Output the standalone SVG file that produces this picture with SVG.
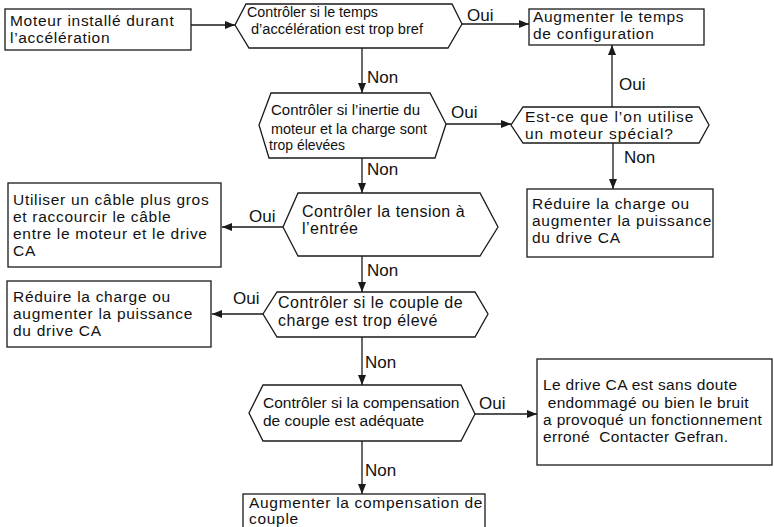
<svg xmlns="http://www.w3.org/2000/svg" width="774" height="527" viewBox="0 0 774 527">
  <style>
    .shape { fill: #ffffff; stroke: #1a1a1a; stroke-width: 1.3; }
    .wire { fill: none; stroke: #1a1a1a; stroke-width: 1.3; marker-end: url(#head); }
    text { font-family: "Liberation Sans", Arial, sans-serif; fill: #111111; }
    .box { font-size: 15.5px; letter-spacing: 0.7px; }
    .note { font-size: 15.5px; letter-spacing: 0.35px; }
    .narrow { font-size: 15.5px; }
    .hx { font-size: 16px; letter-spacing: 0.5px; }
    .hx5 { font-size: 15.5px; }
    .wide { font-size: 15.5px; letter-spacing: 1px; }
    .lbl { font-size: 17px; }
  </style>
  <defs>
    <marker id="head" markerUnits="userSpaceOnUse" markerWidth="10" markerHeight="8" refX="10" refY="4" orient="auto">
      <path d="M0,0 L10,4 L0,8 z" fill="#1a1a1a"/>
    </marker>
  </defs>
  <rect width="774" height="527" fill="#ffffff"/>

  <!-- connectors and their Oui / Non labels -->
  <g id="connectors">
    <line class="wire" x1="191" y1="25" x2="235" y2="25"/>
    <line class="wire" x1="462" y1="24" x2="529" y2="24"/>
    <line class="wire" x1="362" y1="48" x2="362" y2="93"/>
    <line class="wire" x1="446" y1="124" x2="511" y2="124"/>
    <line class="wire" x1="612" y1="107" x2="612" y2="45"/>
    <line class="wire" x1="613" y1="143" x2="613" y2="189"/>
    <line class="wire" x1="362" y1="158" x2="362" y2="193"/>
    <line class="wire" x1="283" y1="227" x2="222" y2="227"/>
    <line class="wire" x1="362" y1="256" x2="362" y2="292"/>
    <line class="wire" x1="263" y1="314" x2="212" y2="314"/>
    <line class="wire" x1="362" y1="337" x2="362" y2="385"/>
    <line class="wire" x1="475" y1="414" x2="537" y2="414"/>
    <line class="wire" x1="362" y1="441" x2="362" y2="494"/>

    <text class="lbl" x="467" y="21">Oui</text>
    <text class="lbl" x="367" y="83">Non</text>
    <text class="lbl" x="451" y="118">Oui</text>
    <text class="lbl" x="619" y="90">Oui</text>
    <text class="lbl" x="624" y="163">Non</text>
    <text class="lbl" x="367" y="175">Non</text>
    <text class="lbl" x="249" y="222">Oui</text>
    <text class="lbl" x="367" y="276">Non</text>
    <text class="lbl" x="233" y="304">Oui</text>
    <text class="lbl" x="365" y="368">Non</text>
    <text class="lbl" x="479" y="409">Oui</text>
    <text class="lbl" x="365" y="476">Non</text>
  </g>

  <g id="start">
    <rect class="shape" x="5" y="9" width="186" height="41"/>
    <text class="box"><tspan x="10" y="26">Moteur installé durant</tspan><tspan x="10" y="43">l’accélération</tspan></text>
  </g>

  <g id="check-accel-time">
    <polygon class="shape" points="246,4 452,4 462,24 448,48 249,48 235,25"/>
    <text class="narrow"><tspan x="247" y="17" textLength="131" lengthAdjust="spacingAndGlyphs">Contrôler si le temps</tspan><tspan x="251" y="34" textLength="172" lengthAdjust="spacingAndGlyphs">d’accélération est trop bref</tspan></text>
  </g>

  <g id="raise-config-time">
    <rect class="shape" x="529" y="9" width="175" height="36"/>
    <text class="box"><tspan x="533" y="22">Augmenter le temps</tspan><tspan x="533" y="39">de configuration</tspan></text>
  </g>

  <g id="check-inertia">
    <polygon class="shape" points="271,93 430,93 446,124 435,158 269,158 259,125"/>
    <text class="narrow"><tspan x="271" y="115" textLength="149" lengthAdjust="spacingAndGlyphs">Contrôler si l’inertie du</tspan><tspan x="271" y="134" textLength="156" lengthAdjust="spacingAndGlyphs">moteur et la charge sont</tspan><tspan x="269" y="150" textLength="76" lengthAdjust="spacingAndGlyphs">trop élevées</tspan></text>
  </g>

  <g id="check-special-motor">
    <polygon class="shape" points="523,107 699,107 709,125 699,143 523,143 511,125"/>
    <text class="wide"><tspan x="525" y="122">Est-ce que l’on utilise</tspan><tspan x="525" y="139">un moteur spécial?</tspan></text>
  </g>

  <g id="reduce-load-right">
    <rect class="shape" x="527" y="189" width="186" height="68"/>
    <text class="box"><tspan x="532" y="209">Réduire la charge ou</tspan><tspan x="532" y="226">augmenter la puissance</tspan><tspan x="532" y="243">du drive CA</tspan></text>
  </g>

  <g id="check-input-voltage">
    <polygon class="shape" points="298,193 480,193 498,227 480,256 298,256 283,227"/>
    <text class="hx"><tspan x="302" y="217">Contrôler la tension à</tspan><tspan x="302" y="234">l’entrée</tspan></text>
  </g>

  <g id="bigger-cable">
    <rect class="shape" x="8" y="183" width="213" height="84"/>
    <text class="box"><tspan x="13" y="205">Utiliser un câble plus gros</tspan><tspan x="13" y="222">et raccourcir le câble</tspan><tspan x="13" y="239">entre le moteur et le drive</tspan><tspan x="13" y="256">CA</tspan></text>
  </g>

  <g id="check-load-torque">
    <polygon class="shape" points="277,292 475,292 488,314 475,337 277,337 263,314"/>
    <text class="hx"><tspan x="278" y="308">Contrôler si le couple de</tspan><tspan x="278" y="326">charge est trop élevé</tspan></text>
  </g>

  <g id="reduce-load-left">
    <rect class="shape" x="7" y="281" width="204" height="66"/>
    <text class="box"><tspan x="13" y="302">Réduire la charge ou</tspan><tspan x="13" y="319">augmenter la puissance</tspan><tspan x="13" y="336">du drive CA</tspan></text>
  </g>

  <g id="check-torque-comp">
    <polygon class="shape" points="263,385 461,385 475,414 461,441 263,441 249,413"/>
    <text class="hx5"><tspan x="263" y="408">Contrôler si la compensation</tspan><tspan x="263" y="426">de couple est adéquate</tspan></text>
  </g>

  <g id="drive-fault">
    <rect class="shape" x="537" y="359" width="235" height="106"/>
    <text class="note" xml:space="preserve"><tspan x="543" y="390">Le drive CA est sans doute</tspan><tspan x="543" y="408"> endommagé ou bien le bruit</tspan><tspan x="543" y="425">a provoqué un fonctionnement</tspan><tspan x="543" y="442">erroné  Contacter Gefran.</tspan></text>
  </g>

  <g id="raise-torque-comp">
    <rect class="shape" x="243" y="494" width="242" height="40"/>
    <text class="box"><tspan x="249" y="508">Augmenter la compensation de</tspan><tspan x="249" y="524">couple</tspan></text>
  </g>
</svg>
